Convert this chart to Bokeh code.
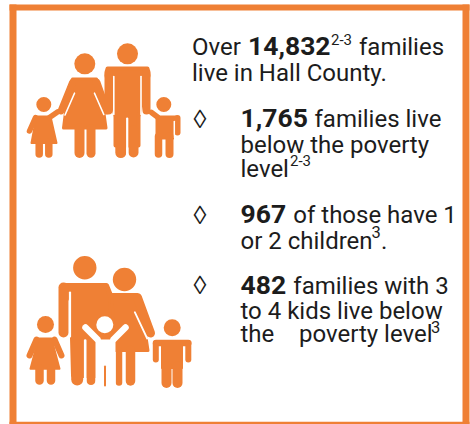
from bokeh.plotting import figure
from bokeh.embed import file_html
from bokeh.resources import INLINE
from bokeh.core.properties import value
from bokeh.models import Range1d

# --- chart content ---
total_families = "14,832"
poverty_families = "1,765"
small_families = "967"
large_families = "482"
ref_a = "2-3"
ref_b = "3"
bullet = "\u25CA"

ORANGE = "#EF8035"
INK = "#1c1c1c"
WHITE = "#ffffff"
BODY = 24
NUM = 26.5
SUP_A = 15
SUP_B = 16.5

p = figure(width=470, height=424, toolbar_location=None, output_backend="svg",
           x_range=Range1d(0, 470), y_range=Range1d(424, 0),
           min_border=0, outline_line_color=None)
p.axis.visible = False
p.grid.visible = False
p.styles = {"position": "absolute", "left": "0px", "top": "0px"}


def txt(x, y, s, size=BODY, bold=False, font="Roboto"):
    p.text([x], [y - 0.34 * size], text=[s], text_font=value(font), text_font_size=value(f"{size}px"),
           text_font_style="bold" if bold else "normal", text_color=INK,
           text_baseline="alphabetic", text_align="left")


def limb(pts, w, c=ORANGE):
    p.line([a[0] for a in pts], [a[1] for a in pts], line_width=w, line_color=c,
           line_cap="round", line_join="round")


def poly(pts, c=ORANGE, w=2):
    p.patch([a[0] for a in pts], [a[1] for a in pts], fill_color=c, line_color=c,
            line_width=w, line_join="round")


def head(x, y, r, c=ORANGE):
    p.circle([x], [y], radius=r, fill_color=c, line_color=None)


# frame
p.quad(left=[9, 462, 9, 9], right=[16, 469, 469, 469], top=[4, 4, 4, 421.3],
       bottom=[424, 424, 10, 424], fill_color=ORANGE, line_color=None)

# --- upper family ---
# woman
head(84.3, 63.3, 10.5)
poly([(72, 78.5), (96, 78.5), (100, 88), (105.5, 127.5), (63, 127.5), (68, 88)], w=3)
limb([(72, 82), (60.5, 110.5)], 7)
limb([(96, 82), (106, 110)], 8)
limb([(74, 92.7), (64.5, 114.5)], 1.6, WHITE)
limb([(94, 92.7), (103.3, 114)], 1.6, WHITE)
limb([(79, 128), (79, 152.5)], 10)
limb([(90.5, 128), (90.5, 152.8)], 9)
# man
head(127, 53.3, 10.5)
poly([(107, 68), (147, 68), (148, 75), (138, 116), (138, 145), (115, 145), (115, 116), (106, 75)], w=4)
limb([(108, 72), (108, 110)], 8)
limb([(146, 72), (146, 110)], 8)
limb([(113.3, 76), (113.3, 114)], 1.6, WHITE)
limb([(140.5, 76), (140.5, 114)], 1.6, WHITE)
limb([(120.3, 130), (120.3, 152)], 11)
limb([(133, 130), (133, 152)], 10)
limb([(126.7, 118), (126.7, 158)], 2.2, WHITE)
# girl
head(43.3, 104, 7.5)
poly([(36, 116), (50, 116), (56, 142.5), (31, 142.5)], w=2)
limb([(35, 117), (29, 130.5)], 5.5)
limb([(49, 117), (57, 111.5)], 5.5)
limb([(38.7, 142), (38.7, 153.5)], 7.5)
limb([(48.3, 142), (48.3, 153.5)], 7.5)
# boy
head(163.3, 104, 7.5)
poly([(156, 116), (176, 116), (172.5, 138), (156, 138)], w=2)
limb([(157, 116.5), (151, 112)], 5.5)
limb([(177, 117.5), (177, 132)], 6)
limb([(173.8, 121), (173.8, 137)], 1.5, WHITE)
limb([(158, 136), (158, 153.5)], 7.5)
limb([(169, 136), (169, 153.5)], 8)

# --- lower family ---
# man
head(84.3, 267.3, 11.7)
poly([(63, 285), (106, 285), (110, 295), (112, 375), (73, 375), (71, 300)], w=5)
limb([(63, 287), (63, 332)], 10)
limb([(69.5, 292), (69.5, 336)], 2.2, WHITE)
limb([(76.7, 345), (76.7, 379)], 12)
limb([(90.5, 345), (90.5, 380)], 9)
# woman
head(124, 279, 11.7)
poly([(111, 294), (136, 294), (140, 300), (147.5, 350), (115, 350)], w=3)
limb([(137, 297), (150, 332.5)], 9)
limb([(134.3, 311.7), (146.7, 338)], 1.8, WHITE)
limb([(118.5, 350), (118.5, 382)], 6.5)
limb([(130, 350), (130, 380.5)], 9.5)
# child, cut out of the parents
head(104.3, 324.3, 8.5, WHITE)
poly([(96, 340), (114, 340), (114, 385), (96, 385)], WHITE, 2)
limb([(85, 327), (97, 339)], 6.5, WHITE)
limb([(125, 327), (113, 339)], 6.5, WHITE)
limb([(84.7, 340), (84.7, 386)], 2.6, WHITE)
limb([(104.5, 366), (104.5, 385)], 2, ORANGE)
# girl
head(45, 324, 8.5)
poly([(38, 338), (51, 338), (59, 368.3), (30, 368.3)], w=2)
limb([(36, 339), (29, 355)], 6)
limb([(54, 339), (61, 355)], 6)
limb([(39, 368), (39, 380)], 8.5)
limb([(50.5, 368), (50.5, 380)], 8.5)
# boy
head(171.7, 327.3, 8.5)
limb([(155.5, 342.5), (187.8, 342.5)], 6.5)
poly([(161, 345), (182, 345), (182, 368), (161, 368)], w=1)
limb([(155.3, 343), (155.3, 359)], 6)
limb([(187.8, 343), (187.8, 359)], 6)
limb([(166, 366), (166, 382.5)], 10)
limb([(177, 366), (177, 382.5)], 10)

# --- text ---
txt(191.5, 55, "Over")
txt(247.5, 55, total_families, NUM, True)
txt(330.5, 44, ref_a, SUP_A)
txt(358.5, 55, "families")
txt(191.5, 81, "live in Hall County.")

txt(193, 127.5, bullet, 26, font="Liberation Sans")
txt(240, 127, poverty_families, NUM, True)
txt(314, 127, "families live")
txt(240, 152.5, "below the poverty")
txt(240, 176.5, "level")
txt(289.5, 165, ref_a, SUP_A)

txt(193, 223, bullet, 26, font="Liberation Sans")
txt(240, 222.5, small_families, NUM, True)
txt(292.8, 222.5, "of those have 1")
txt(240, 248.5, "or 2 children")
txt(371, 236.7, ref_b, SUP_B)
txt(380.5, 248.5, ".")

txt(193, 293.5, bullet, 26, font="Liberation Sans")
txt(240, 293.5, large_families, NUM, True)
txt(292.8, 293.5, "families with 3")
txt(240, 319, "to 4 kids live below")
txt(240, 342, "the")
txt(298.5, 342, "poverty level")
txt(430.5, 331.7, ref_b, SUP_B)

open("out.html", "w").write(file_html(p, INLINE))
